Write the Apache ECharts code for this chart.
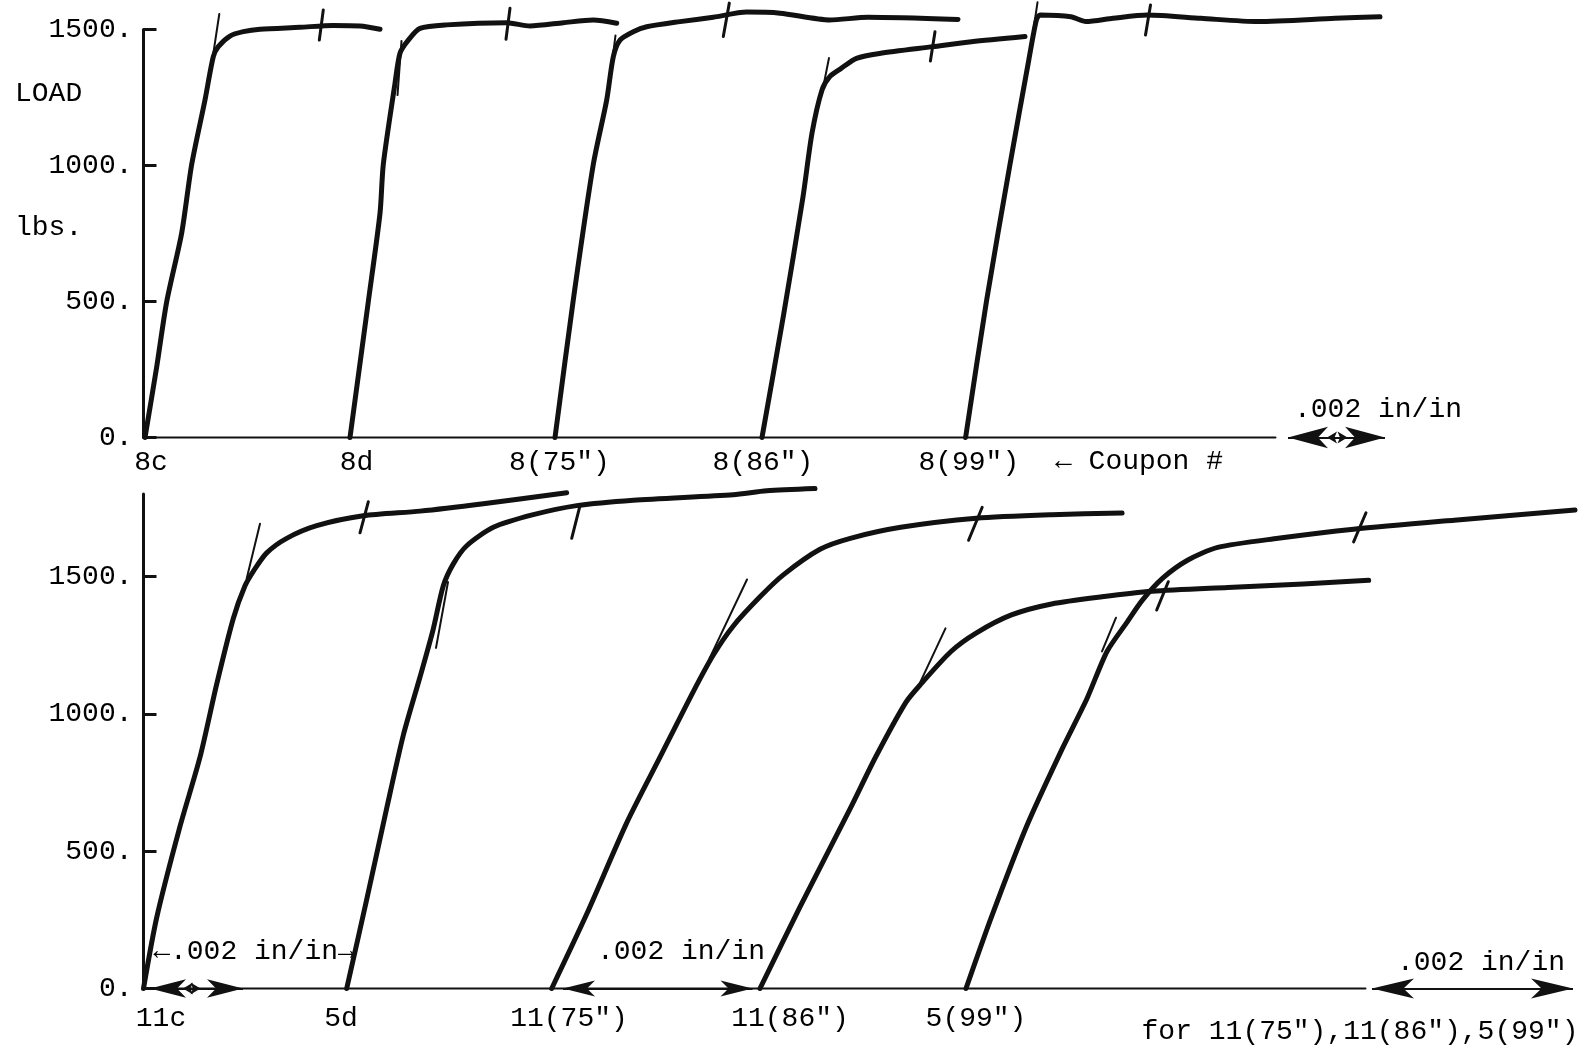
<!DOCTYPE html>
<html><head><meta charset="utf-8">
<script src="https://cdn.jsdelivr.net/npm/echarts@6/dist/echarts.min.js"></script>
<style>html,body{margin:0;padding:0;background:#fff}#c{width:1589px;height:1052px}</style>
</head><body><div id="c"></div>
<script>
// x: strain offset from the load axis (arbitrary chart units), y: LOAD in lbs
const loadTicks = [0, 500, 1000, 1500];

const topCoupons = ['8c', '8d', '8(75")', '8(86")', '8(99")'];
const topCouponX = [7.5, 213, 416, 619.5, 825.3];
const bottomCoupons = ['11c', '5d', '11(75")', '11(86")', '5(99")'];
const bottomCouponX = [17.5, 197.5, 425.5, 646.5, 832.5];

// extent of the drawn strain base lines
const topBaseEnd = 1132;
const bottomBaseEnd = 1222;

// ---- upper panel curves ----
const c8c = [[1.5,0],[13.2,260],[23.2,499],[38.2,752],[48.2,1004],[61.5,1241],[69.8,1400],[74.8,1437],[86.5,1476],[99.8,1492],[116.5,1501],[156.5,1508],[189.5,1515],[216.5,1513],[236.5,1501]];
const c8d = [[206.5,0],[224.8,499],[236.5,824],[239.8,1004],[251.5,1302],[256.5,1413],[264.8,1461],[276.5,1504],[303.2,1517],[363.2,1525],[386.5,1513],[419.8,1525],[449.8,1535],[473.2,1523]];
const c8_75 = [[411.5,0],[429.8,506],[449.8,1004],[463.2,1241],[469.8,1400],[476.5,1461],[489.8,1492],[503.2,1510],[536.5,1529],[569.8,1545],[603.2,1564],[636.5,1560],[686.3,1535],[724.5,1545],[814.5,1537]];
const c8_86 = [[618.5,0],[639.9,447],[659.5,885],[668.5,1119],[678.5,1278],[686.3,1327],[697.7,1357],[713,1394],[736,1412],[789.5,1437],[827.9,1455],[881.5,1474]];
const c8_99 = [[822.1,0],[843.2,506],[866.1,996],[885.3,1388],[892.9,1535],[896.5,1553],[927.4,1547],[942.5,1529],[969.5,1541],[1003.9,1553],[1057.5,1541],[1114.5,1529],[1191.5,1541],[1236.5,1547]];
const topTangents = [[[64.8,1290],[75.8,1557]], [[254,1259],[258,1458]], [[468,1363],[472,1478]], [[678.5,1266],[685.5,1395]], [[890,1500],[894,1600]]];
const topMarks = [[[179.8,1572],[175.8,1461]], [[366.5,1578],[362.5,1464]], [[585.8,1597],[579.8,1474]], [[791.5,1492],[786.9,1384]], [[1007,1590],[1002,1480]]];

// ---- lower panel curves ----
const c11c = [[0,0],[13.2,258],[36.5,590],[56.5,842],[73.2,1108],[89.8,1347],[101.5,1466],[109.8,1519],[123.2,1586],[143.2,1639],[173.2,1685],[219.8,1721],[276.5,1738],[339.8,1765],[423.2,1805]];
const c5d = [[203.2,0],[223.2,324],[243.2,656],[259.8,922],[276.5,1134],[289.5,1305],[299.8,1466],[309.8,1546],[323.2,1612],[349.8,1679],[389.8,1725],[433.2,1758],[489.8,1778],[589.8,1798],[623.2,1812],[671.5,1820]];
const c11_75 = [[408.2,0],[443.2,271],[483.2,603],[516.5,842],[549.8,1081],[569.8,1214],[589.8,1320],[616.5,1426],[639.8,1506],[676.5,1599],[706.8,1639],[757.2,1679],[832.6,1712],[908.1,1725],[978.6,1731]];
const c11_86 = [[616.5,0],[656.5,297],[706.8,656],[732,842],[762.2,1041],[777.3,1108],[807.5,1227],[832.6,1294],[867.9,1360],[908.1,1400],[958.5,1426],[1008.8,1446],[1084.3,1460],[1159.8,1473],[1225.2,1486]];
const c5_99 = [[822.5,0],[847.7,258],[883,590],[918.2,869],[943.4,1055],[963.5,1227],[983.6,1334],[998.7,1413],[1018.9,1493],[1044,1559],[1074.2,1606],[1134.6,1639],[1210.1,1672],[1310.7,1705],[1431.5,1742]];
const bottomTangents = [[[103.2,1493],[116.5,1692]], [[292.5,1240],[304.5,1480]], [[565.9,1201],[603.5,1489]], [[773.5,1090],[802,1311]], [[958.5,1227],[972.5,1350]]];
const bottomMarks = [[[224.8,1772],[216.5,1659]], [[436.5,1758],[428.2,1639]], [[838.7,1752],[825.1,1632]], [[1024.8,1481],[1013.2,1378]], [[1222.5,1732],[1210.1,1626]]];

// scale arrows on the strain axis (tip x, tip x)
const topScaleBar = [1144.5, 1241.5];
const topScaleInner = [1183.5, 1204];
const bottomScaleBars = [[6.5, 99.5], [419.5, 609], [1228.5, 1429.5]];
const bottomScaleInner = [39.5, 57];

const FONT = "'Liberation Mono', 'DejaVu Sans Mono', monospace";
const INK = '#000';

function curve(data, gi) {
  return {type:'line', xAxisIndex:gi, yAxisIndex:gi, data, symbol:'none', smooth:0.25,
    clip:false, silent:true, z:3, lineStyle:{color:'#111', width:5, cap:'round', join:'round'}};
}
function stroke(data, gi, w) {
  return {type:'line', xAxisIndex:gi, yAxisIndex:gi, data, symbol:'none', clip:false, silent:true, z:4,
    lineStyle:{color:'#111', width:w, cap:'round'}};
}
function arrow(gi, x1, x2, size, w) {
  return {type:'line', xAxisIndex:gi, yAxisIndex:gi, data:[], clip:false, silent:true, z:5,
    markLine:{silent:true, animation:false, symbol:['arrow','arrow'], symbolSize:size,
      label:{show:false}, lineStyle:{color:'#111', width:w, type:'solid'},
      data:[[{coord:[x1, 0]},{coord:[x2, 0]}]]}};
}
function labels(names, xs, gi, dist) {
  return {type:'scatter', xAxisIndex:gi, yAxisIndex:gi, clip:false, silent:true, symbolSize:1,
    itemStyle:{color:'rgba(0,0,0,0)'},
    data: names.map((n,i)=>({value:[xs[i],0], name:n})),
    label:{show:true, position:'bottom', distance:dist, formatter:p=>p.name, color:INK, opacity:1,
      fontFamily:FONT, fontSize:28}};
}

const series = [];
series.push(stroke([[0,0],[topBaseEnd,0]], 0, 2));
series.push(stroke([[0,0],[bottomBaseEnd,0]], 1, 2));
[c8c, c8d, c8_75, c8_86, c8_99].forEach(d=>series.push(curve(d,0)));
topTangents.forEach(d=>series.push(stroke(d,0,2)));
topMarks.forEach(d=>series.push(stroke(d,0,3)));
[c11c, c5d, c11_75, c11_86, c5_99].forEach(d=>series.push(curve(d,1)));
bottomTangents.forEach(d=>series.push(stroke(d,1,2)));
bottomMarks.forEach(d=>series.push(stroke(d,1,3)));
series.push(arrow(0, topScaleBar[0], topScaleBar[1], [16,40], 2));
series.push(arrow(0, topScaleInner[0], topScaleInner[1], [9,10], 2));
series.push(arrow(1, bottomScaleBars[0][0], bottomScaleBars[0][1], [14,36], 2));
series.push(arrow(1, bottomScaleInner[0], bottomScaleInner[1], [9,10], 2));
series.push(arrow(1, bottomScaleBars[1][0], bottomScaleBars[1][1], [12,32], 2));
series.push(arrow(1, bottomScaleBars[2][0], bottomScaleBars[2][1], [15,42], 2));
series.push(labels(topCoupons, topCouponX, 0, 11));
series.push(labels(bottomCoupons, bottomCouponX, 1, 16));

function yAxis(gi, max) {
  return {type:'value', gridIndex:gi, min:0, max:max, interval:500,
    axisLine:{show:true, onZero:false, lineStyle:{color:'#111', width:3}},
    axisTick:{show:true, inside:true, length:13, lineStyle:{color:'#111', width:3}, customValues:loadTicks},
    axisLabel:{show:true, margin:11, color:INK, fontFamily:FONT, fontSize:28, formatter:v=>v+'.', customValues:loadTicks},
    splitLine:{show:false}};
}
function xAxis(gi, max) {
  return {type:'value', gridIndex:gi, min:0, max:max,
    axisLine:{show:false}, axisTick:{show:false}, axisLabel:{show:false}, splitLine:{show:false}};
}

function txt(x, y, text, align) {
  return {type:'text', x, y, silent:true,
    style:{text, fill:INK, font:"28px " + FONT, textAlign:align||'center', textVerticalAlign:'middle'}};
}

const option = {
  backgroundColor:'#fff',
  animation:false,
  grid:[
    {left:143.5, top:29.5, width:1245, height:408, outerBoundsMode:'none', containLabel:false},
    {left:143.5, top:494.1, width:1440, height:494.4, outerBoundsMode:'none', containLabel:false}
  ],
  xAxis:[xAxis(0,1245), xAxis(1,1440)],
  yAxis:[yAxis(0,1500), yAxis(1,1800)],
  series,
  graphic:[
    txt(15, 94, 'LOAD', 'left'),
    txt(15, 228, 'lbs.', 'left'),
    txt(1139, 462, '\u2190 Coupon #'),
    txt(1378, 410, '.002 in/in'),
    txt(254, 952, '\u2190.002 in/in\u2192'),
    txt(681, 952, '.002 in/in'),
    txt(1481, 963, '.002 in/in'),
    txt(1360, 1032, 'for 11(75"),11(86"),5(99")')
  ]
};
const chart = echarts.init(document.getElementById('c'), null, {renderer:'canvas'});
chart.setOption(option);
</script></body></html>
